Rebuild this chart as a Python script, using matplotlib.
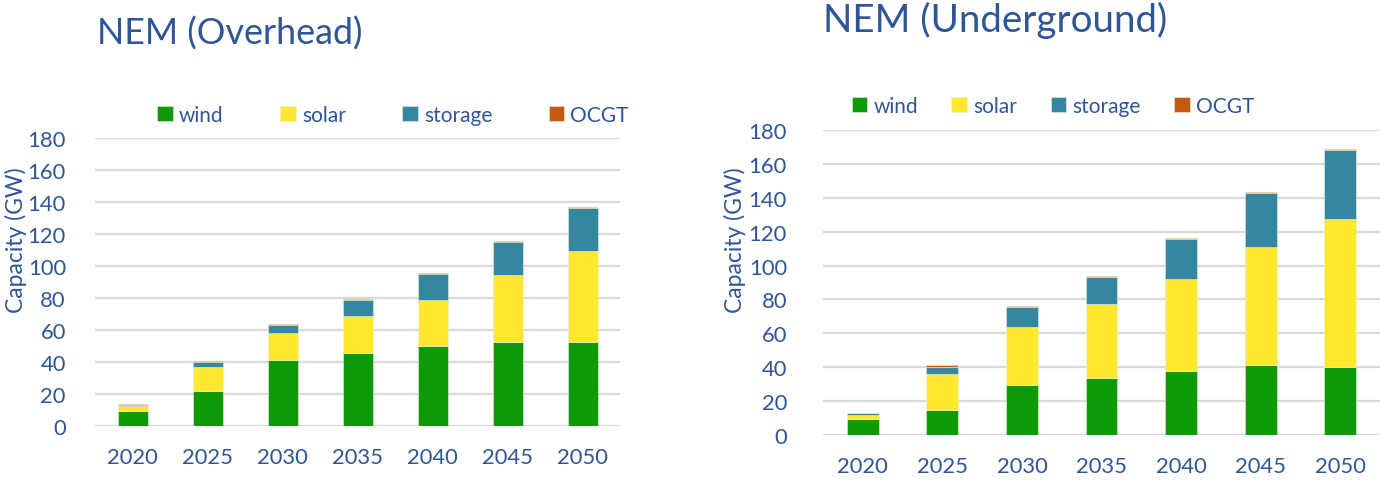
import numpy as np
import matplotlib
matplotlib.use("Agg")
import matplotlib.pyplot as plt

years = ["2020", "2025", "2030", "2035", "2040", "2045", "2050"]
series = ["wind", "solar", "storage", "OCGT"]

# NEM (Overhead), GW
overhead_wind = [9.4, 21.7, 41.1, 45.7, 49.9, 52.2, 52.8]
overhead_solar = [3.3, 15.3, 17.1, 22.8, 29.0, 42.0, 56.4]
overhead_storage = [0.3, 2.9, 5.1, 10.0, 16.1, 21.0, 27.1]
overhead_ocgt = [0.6, 0.6, 0.6, 0.6, 0.6, 0.6, 0.6]

# NEM (Underground), GW
under_wind = [9.4, 15.0, 29.5, 33.5, 37.6, 41.1, 40.4]
under_solar = [2.6, 21.2, 34.1, 43.9, 54.3, 69.9, 87.2]
under_storage = [1.0, 4.2, 11.8, 16.1, 23.7, 32.1, 40.7]
under_ocgt = [0.0, 0.7, 0.6, 0.6, 0.6, 0.6, 0.6]

colors = ["#0E9A07", "#FFE82E", "#35869F", "#C55A11"]
text_color = "#2F5597"
grid_color = "#D9D9D9"

plt.rcParams["font.family"] = ["Lato", "DejaVu Sans"]


def draw_panel(ax, stacks, title, title_xy, title_size, legend_xy, colspace, label_x, pad):
    x = np.arange(len(years))
    bottom = np.zeros(len(years))
    handles = []
    for name, vals, c in zip(series, stacks, colors):
        vals = np.array(vals)
        b = ax.bar(x, vals, width=0.4, bottom=bottom, color=c, label=name,
                   edgecolor="#E8F0E0", linewidth=0.4, zorder=3)
        handles.append(b)
        bottom = bottom + vals
    ax.set_xlim(-0.5, len(years) - 0.5)
    ax.set_ylim(0, 180)
    ax.set_yticks(range(0, 181, 20))
    ax.set_xticks(x)
    ax.set_xticklabels(years)
    ax.yaxis.grid(True, color=grid_color, linewidth=1.6, zorder=0)
    ax.set_axisbelow(True)
    for s in ax.spines.values():
        s.set_visible(False)
    ax.tick_params(axis="both", length=0, labelsize=15.8, colors=text_color)
    ax.tick_params(axis="y", pad=pad)
    ax.tick_params(axis="x", pad=15)
    ax.set_ylabel("Capacity (GW)", fontsize=16.5, color=text_color)
    ax.yaxis.set_label_coords(label_x, 0.5, transform=fig.transFigure)
    fig.text(title_xy[0], title_xy[1], title, fontsize=title_size, color=text_color,
             ha="left", va="baseline")
    fig.legend(handles, series, loc="center", bbox_to_anchor=legend_xy,
               ncol=4, frameon=False, fontsize=15, labelcolor=text_color,
               handlelength=0.75, handleheight=0.75, handletextpad=0.3,
               columnspacing=colspace)


fig = plt.figure(figsize=(13.81, 4.81), dpi=100)
W, H = 1381, 481
ax1 = fig.add_axes([95 / W, 1 - 427 / H, (620 - 95) / W, (427 - 139) / H])
ax2 = fig.add_axes([823 / W, 1 - 436 / H, (1380 - 823) / W, (436 - 131) / H])

draw_panel(ax1, [overhead_wind, overhead_solar, overhead_storage, overhead_ocgt],
           "NEM (Overhead)", (97 / W, 1 - 45 / H), 25.8, (393 / W, 1 - 116 / H),
           2.7, 27 / W, 21)
draw_panel(ax2, [under_wind, under_solar, under_storage, under_ocgt],
           "NEM (Underground)", (823 / W, 1 - 32 / H), 27.7, (1053 / W, 1 - 107 / H),
           1.6, 746 / W, 26)

fig.savefig("out.png", dpi=100)
